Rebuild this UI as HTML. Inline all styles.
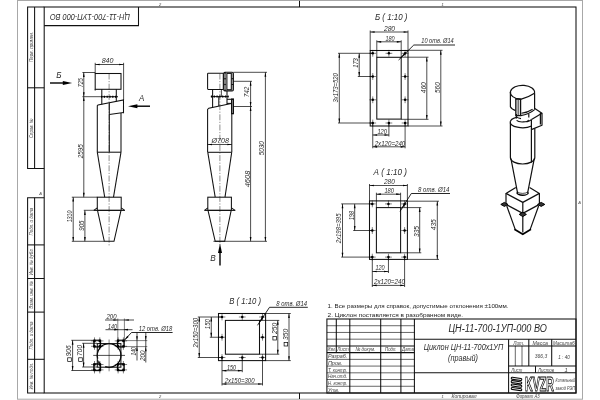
<!DOCTYPE html>
<html lang="ru"><head><meta charset="utf-8"><title>ЦН-11-700-1УП-000 ВО</title>
<style>
html,body{margin:0;padding:0;background:#fff;overflow:hidden}
svg{display:block;will-change:transform;filter:grayscale(1)}
text{font-family:"Liberation Sans",sans-serif;fill:#2a2a2a}
.i{font-style:italic}
.g{fill:#444}
.n{fill:#222}
.pg{fill:#fff;stroke:#a8a8a8;stroke-width:1}
.k{fill:none;stroke:#111;stroke-width:1.05;stroke-linejoin:miter}
.kk{fill:none;stroke:#000;stroke-width:2;stroke-dasharray:1.2 1.6}
.t{fill:none;stroke:#000;stroke-width:.7}
.ld{fill:none;stroke:#000;stroke-width:.85}
.k2{fill:none;stroke:#000;stroke-width:1.25}
.kf{fill:#777;stroke:#111;stroke-width:1}
.band{fill:none;stroke:#000;stroke-width:1.8;stroke-opacity:.5}
.band2{fill:none;stroke:#000;stroke-width:1.2;stroke-opacity:.35}
.kf2{fill:#ddd;stroke:#111;stroke-width:1.25}
.t2{fill:none;stroke:#000;stroke-width:.6}
.t3{fill:none;stroke:#000;stroke-width:.9;stroke-opacity:.55}
.h{fill:none;stroke:#000;stroke-width:.5}
.c{fill:none;stroke:#000;stroke-width:.45;stroke-dasharray:6 1.5 1.2 1.5}
.c2{fill:none;stroke:#000;stroke-width:.5}
.a{fill:#000;stroke:none}
.b{fill:#000;stroke:none}
.va{fill:none;stroke:#000;stroke-width:1.4}
.ft{fill:none;stroke:#000;stroke-width:1.1}
.fk{fill:#333;stroke:#000;stroke-width:1;stroke-linejoin:miter}
.ki{fill:none;stroke:#111;stroke-width:1.2;stroke-linejoin:round}
.fv2{fill:none;stroke:#000;stroke-width:1.4}
.fv{fill:none;stroke:#000;stroke-width:1.7;stroke-linejoin:miter}
.lg{fill:none;stroke:#000;stroke-width:3;stroke-linejoin:round;stroke-linecap:round}
.lg2{fill:none;stroke:#fff;stroke-width:.9;stroke-linejoin:round;stroke-linecap:round}
.lgt{font-weight:bold;fill:#fff;stroke:#000;stroke-width:1;font-style:normal}
</style></head>
<body>
<svg width="600" height="400" viewBox="0 0 600 400">
<rect width="600" height="400" fill="#fff"/>
<rect class="pg" x="17.5" y="0.5" width="565" height="398.7"/>
<rect class="k" x="44.2" y="7" width="531.8" height="386"/>
<path class="k" d="M44.2 7L27.6 7L27.6 168.5L44.2 168.5"/>
<path class="k" d="M34.6 7L34.6 168.5"/>
<path class="k" d="M44.2 197.8L27.6 197.8L27.6 393L44.2 393"/>
<path class="k" d="M34.6 197.8L34.6 393"/>
<path class="k" d="M27.6 87.8L44.2 87.8"/>
<path class="k" d="M27.6 244.9L44.2 244.9"/>
<path class="k" d="M27.6 278.5L44.2 278.5"/>
<path class="k" d="M27.6 312.1L44.2 312.1"/>
<path class="k" d="M27.6 359.3L44.2 359.3"/>
<text class="i g" x="33" y="47" font-size="5" transform="rotate(-90 33 47)" textLength="30" lengthAdjust="spacingAndGlyphs" text-anchor="middle">Перв. примен.</text>
<text class="i g" x="33" y="128.3" font-size="5" transform="rotate(-90 33 128.3)" textLength="19.5" lengthAdjust="spacingAndGlyphs" text-anchor="middle">Справ. №</text>
<text class="i g" x="33" y="221.6" font-size="5" transform="rotate(-90 33 221.6)" textLength="27.7" lengthAdjust="spacingAndGlyphs" text-anchor="middle">Подп. и дата</text>
<text class="i g" x="33" y="261.75" font-size="5" transform="rotate(-90 33 261.75)" textLength="27" lengthAdjust="spacingAndGlyphs" text-anchor="middle">Инв. № дубл.</text>
<text class="i g" x="33" y="295" font-size="5" transform="rotate(-90 33 295)" textLength="27.5" lengthAdjust="spacingAndGlyphs" text-anchor="middle">Взам. инв. №</text>
<text class="i g" x="33" y="335.5" font-size="5" transform="rotate(-90 33 335.5)" textLength="27.8" lengthAdjust="spacingAndGlyphs" text-anchor="middle">Подп. и дата</text>
<text class="i g" x="33" y="376" font-size="5" transform="rotate(-90 33 376)" textLength="27" lengthAdjust="spacingAndGlyphs" text-anchor="middle">Инв. № подл.</text>
<path class="k" d="M44.2 25.6L138.5 25.6L138.5 7"/>
<text class="i" x="90" y="13.6" font-size="8.6" transform="rotate(180 90 13.6)" textLength="80" lengthAdjust="spacingAndGlyphs" text-anchor="middle">ЦН-11-700-1УП-000 ВО</text>
<path class="k" d="M299.5 0.8L299.5 7"/>
<path class="k" d="M299.5 393L299.5 399"/>
<text class="i g" x="160" y="5.6" font-size="4" text-anchor="middle">2</text>
<text class="i g" x="442.5" y="5.6" font-size="4" text-anchor="middle">1</text>
<text class="i g" x="160" y="398.3" font-size="4" text-anchor="middle">2</text>
<text class="i g" x="442.5" y="398.3" font-size="4" text-anchor="middle">1</text>
<text class="i g" x="40.6" y="195.3" font-size="4" text-anchor="middle">A</text>
<text class="i g" x="579.7" y="203.6" font-size="4" text-anchor="middle">A</text>
<text class="i g" x="464" y="398.3" font-size="4.6" textLength="25" lengthAdjust="spacingAndGlyphs" text-anchor="middle">Копировал</text>
<text class="i g" x="528" y="398.3" font-size="4.6" textLength="23.5" lengthAdjust="spacingAndGlyphs" text-anchor="middle">Формат А3</text>
<rect class="k" x="326.9" y="319" width="249.1" height="74"/>
<path class="k" d="M349.8 319L349.8 393"/>
<path class="k" d="M380.7 319L380.7 393"/>
<path class="k" d="M400.9 319L400.9 393"/>
<path class="k" d="M414.4 319L414.4 393"/>
<path class="k" d="M336.3 319L336.3 352.63"/>
<path class="t2" d="M326.9 325.73L414.4 325.73"/>
<path class="t2" d="M326.9 332.45L414.4 332.45"/>
<path class="t2" d="M326.9 339.18L414.4 339.18"/>
<path class="k" d="M326.9 345.91L414.4 345.91"/>
<path class="k" d="M326.9 352.63L414.4 352.63"/>
<path class="t2" d="M326.9 359.36L414.4 359.36"/>
<path class="t2" d="M326.9 366.09L414.4 366.09"/>
<path class="t2" d="M326.9 372.82L414.4 372.82"/>
<path class="t2" d="M326.9 379.54L414.4 379.54"/>
<path class="t2" d="M326.9 386.27L414.4 386.27"/>
<path class="k" d="M414.4 339.18L576 339.18"/>
<path class="k" d="M414.4 372.82L576 372.82"/>
<path class="k" d="M508.6 339.18L508.6 393"/>
<path class="k" d="M508.6 345.91L576 345.91"/>
<path class="k" d="M508.6 366.09L576 366.09"/>
<path class="k" d="M528.8 339.18L528.8 366.09"/>
<path class="k" d="M551.7 339.18L551.7 366.09"/>
<path class="t2" d="M515.3 345.91L515.3 366.09"/>
<path class="t2" d="M522 345.91L522 366.09"/>
<path class="k" d="M535.5 366.09L535.5 372.82"/>
<text class="i g" x="331.6" y="351.44" font-size="5.8" textLength="8.4" lengthAdjust="spacingAndGlyphs" text-anchor="middle">Изм.</text>
<text class="i g" x="343.05" y="351.44" font-size="5.8" textLength="11.6" lengthAdjust="spacingAndGlyphs" text-anchor="middle">Лист</text>
<text class="i g" x="365.4" y="351.44" font-size="5.8" textLength="20" lengthAdjust="spacingAndGlyphs" text-anchor="middle">№ докум.</text>
<text class="i g" x="390.8" y="351.44" font-size="5.8" textLength="11.5" lengthAdjust="spacingAndGlyphs" text-anchor="middle">Подп.</text>
<text class="i g" x="408" y="351.44" font-size="5.8" textLength="11.8" lengthAdjust="spacingAndGlyphs" text-anchor="middle">Дата</text>
<text class="i g" x="327.9" y="358.16" font-size="5.8" textLength="19.5" lengthAdjust="spacingAndGlyphs">Разраб.</text>
<text class="i g" x="327.9" y="364.89" font-size="5.8" textLength="14.5" lengthAdjust="spacingAndGlyphs">Пров.</text>
<text class="i g" x="327.9" y="371.62" font-size="5.8" textLength="19.5" lengthAdjust="spacingAndGlyphs">Т. контр.</text>
<text class="i g" x="327.9" y="378.34" font-size="5.8" textLength="19.5" lengthAdjust="spacingAndGlyphs">Нач.отд.</text>
<text class="i g" x="327.9" y="385.07" font-size="5.8" textLength="19.5" lengthAdjust="spacingAndGlyphs">Н. контр.</text>
<text class="i g" x="327.9" y="391.8" font-size="5.8" textLength="11.5" lengthAdjust="spacingAndGlyphs">Утв.</text>
<text class="i g" x="518.7" y="344.71" font-size="5.8" textLength="11" lengthAdjust="spacingAndGlyphs" text-anchor="middle">Лит.</text>
<text class="i g" x="540.2" y="344.71" font-size="5.8" textLength="15.5" lengthAdjust="spacingAndGlyphs" text-anchor="middle">Масса</text>
<text class="i g" x="563.8" y="344.71" font-size="5.8" textLength="21.5" lengthAdjust="spacingAndGlyphs" text-anchor="middle">Масштаб</text>
<text class="i g" x="541" y="357.6" font-size="6.2" textLength="12.5" lengthAdjust="spacingAndGlyphs" text-anchor="middle">366,3</text>
<text class="i g" x="564" y="358.8" font-size="6.2" textLength="11.5" lengthAdjust="spacingAndGlyphs" text-anchor="middle">1 : 40</text>
<text class="i g" x="516.8" y="371.62" font-size="5.8" textLength="11" lengthAdjust="spacingAndGlyphs" text-anchor="middle">Лист</text>
<text class="i g" x="546" y="371.62" font-size="5.8" textLength="16" lengthAdjust="spacingAndGlyphs" text-anchor="middle">Листов</text>
<text class="i g" x="566" y="371.62" font-size="5.8" text-anchor="middle">1</text>
<text class="i" x="497.7" y="332.1" font-size="10" textLength="98.5" lengthAdjust="spacingAndGlyphs" text-anchor="middle">ЦН-11-700-1УП-000 ВО</text>
<text class="i" x="463.5" y="349.7" font-size="9" textLength="79.5" lengthAdjust="spacingAndGlyphs" text-anchor="middle">Циклон ЦН-11-700х1УП</text>
<text class="i" x="463" y="360.6" font-size="9" textLength="30" lengthAdjust="spacingAndGlyphs" text-anchor="middle">(правый)</text>
<path class="lg" d="M512.2 378.2L520.8 379.5M512.2 381.6L520.8 382.9M512.2 385L520.8 386.3M512.2 388.4L520.8 389.7"/>
<path class="lg2" d="M512.2 378.2L520.8 379.5M512.2 381.6L520.8 382.9M512.2 385L520.8 386.3M512.2 388.4L520.8 389.7"/>
<text class="lgt" x="525" y="391" font-size="19.5" textLength="28.8" lengthAdjust="spacingAndGlyphs">KVZR</text>
<text class="i g" x="565.3" y="382.2" font-size="5.2" textLength="19.5" lengthAdjust="spacingAndGlyphs" text-anchor="middle">Котельный</text>
<text class="i g" x="565.3" y="389.8" font-size="5.2" textLength="19.5" lengthAdjust="spacingAndGlyphs" text-anchor="middle">завод РЭП</text>
<text class="n" x="327.6" y="307.9" font-size="6.2" textLength="181" lengthAdjust="spacingAndGlyphs">1. Все размеры для справок, допустимые отклонения ±100мм.</text>
<text class="n" x="327.6" y="316.9" font-size="6.2" textLength="135.5" lengthAdjust="spacingAndGlyphs">2. Циклон поставляется в разобранном виде.</text>
<path class="c" d="M109.1 73.5L109.1 245.5"/>
<rect class="k" x="95.2" y="73.5" width="25.8" height="15.8"/>
<path class="k" d="M95.2 89.3L95.2 90.6"/>
<path class="k" d="M101.8 89.3L101.8 104.4"/>
<path class="k" d="M116.3 89.3L116.3 101.5"/>
<path class="k" d="M101 96.7L117.9 96.7"/>
<path class="kk" d="M101 96.7L117.9 96.7"/>
<path class="t" d="M82.4 96.7L101 96.7"/>
<path class="k" d="M97.3 152.2L97.3 105.7L98 105.1L123.5 100L123.5 113.2"/>
<path class="k" d="M123.5 112.6L109.3 114.6"/>
<path class="k" d="M109.3 102.9L109.3 152.2"/>
<path class="k" d="M121 113L121 152.2"/>
<path class="k" d="M97.3 152.2L121 152.2"/>
<path class="k" d="M97.3 152.2L104.7 197.2"/>
<path class="k" d="M121 152.2L113.5 197.2"/>
<rect class="k" x="97.3" y="197.2" width="23.9" height="13.1"/>
<path class="k" d="M93.6 210.4L124.9 210.4"/>
<path class="k" d="M93.8 210.4L97.3 207.9"/>
<path class="k" d="M124.7 210.4L121.2 207.9"/>
<path class="k" d="M97.5 210.4L104.3 241.3L114 241.3L121 210.4"/>
<path class="t" d="M95.2 62.8L95.2 73.5"/>
<path class="t" d="M123.6 62.8L123.6 100"/>
<path class="t" d="M95.2 64.5L123.6 64.5"/>
<path class="a" d="M95.2 64.5L99.6 63.65L99.6 65.35Z"/>
<path class="a" d="M123.6 64.5L119.2 65.35L119.2 63.65Z"/>
<text class="i" x="107.6" y="63.4" font-size="6.3" textLength="11.8" lengthAdjust="spacingAndGlyphs" text-anchor="middle">840</text>
<path class="t" d="M82.4 72.5L95.2 72.5"/>
<path class="t" d="M83.8 72.5L83.8 96.7"/>
<path class="a" d="M83.8 72.5L84.65 76.9L82.95 76.9Z"/>
<path class="a" d="M83.8 96.7L82.95 92.3L84.65 92.3Z"/>
<text class="i" x="82.7" y="82.75" font-size="6.3" transform="rotate(-90 82.7 82.75)" textLength="9.1" lengthAdjust="spacingAndGlyphs" text-anchor="middle">725</text>
<path class="t" d="M83.8 96.7L83.8 197.2"/>
<path class="a" d="M83.8 96.7L84.65 101.1L82.95 101.1Z"/>
<path class="a" d="M83.8 197.2L82.95 192.8L84.65 192.8Z"/>
<text class="i" x="82.7" y="151.2" font-size="6.3" transform="rotate(-90 82.7 151.2)" textLength="14.1" lengthAdjust="spacingAndGlyphs" text-anchor="middle">2595</text>
<path class="t" d="M71.8 197.2L97.3 197.2"/>
<path class="t" d="M83.8 210.3L93.7 210.3"/>
<path class="t" d="M71.8 241.3L104.3 241.3"/>
<path class="t" d="M73.2 197.2L73.2 241.3"/>
<path class="a" d="M73.2 197.2L74.05 201.6L72.35 201.6Z"/>
<path class="a" d="M73.2 241.3L72.35 236.9L74.05 236.9Z"/>
<text class="i" x="72.1" y="216.5" font-size="6.3" transform="rotate(-90 72.1 216.5)" textLength="11.7" lengthAdjust="spacingAndGlyphs" text-anchor="middle">1310</text>
<path class="t" d="M84.9 210.5L84.9 241.3"/>
<path class="a" d="M84.9 210.5L85.75 214.9L84.05 214.9Z"/>
<path class="a" d="M84.9 241.3L84.05 236.9L85.75 236.9Z"/>
<text class="i" x="83.8" y="225.6" font-size="6.3" transform="rotate(-90 83.8 225.6)" textLength="10.3" lengthAdjust="spacingAndGlyphs" text-anchor="middle">905</text>
<path class="va" d="M50 83L66 83"/>
<path class="a" d="M72.2 83L62.8 85L62.8 81Z"/>
<text class="i" x="58.9" y="78" font-size="9.6" textLength="5.3" lengthAdjust="spacingAndGlyphs" text-anchor="middle">Б</text>
<path class="va" d="M150 106.2L134 106.2"/>
<path class="a" d="M128 106.2L137.4 104.2L137.4 108.2Z"/>
<text class="i" x="141.6" y="101.3" font-size="9.6" textLength="5.3" lengthAdjust="spacingAndGlyphs" text-anchor="middle">А</text>
<path class="c" d="M219.9 73.5L219.9 245.5"/>
<rect class="k" x="207.6" y="73.3" width="15.7" height="16.1" rx="0.6"/>
<rect class="k" x="223.7" y="72.2" width="9.7" height="18.7" rx="1.2"/>
<rect class="k" x="226.9" y="73.4" width="4.4" height="16.3"/>
<path class="band" d="M225.2 73L225.2 90"/>
<path class="band2" d="M232.4 73L232.4 90"/>
<circle class="b" cx="225" cy="72.9" r="0.8"/>
<circle class="b" cx="225" cy="78.7" r="0.8"/>
<circle class="b" cx="225" cy="84.5" r="0.8"/>
<circle class="b" cx="225" cy="90.3" r="0.8"/>
<path class="k" d="M231.4 78.7L233.4 78.7"/>
<path class="k" d="M231.4 84.5L233.4 84.5"/>
<path class="k" d="M212.6 89.4L212.6 107.4"/>
<path class="k" d="M227 90.9L227 104.2"/>
<path class="t" d="M221.4 89.4L221.4 96.6"/>
<path class="k" d="M210.9 96.6L228.6 96.6"/>
<path class="kk" d="M210.9 96.6L228.6 96.6"/>
<path class="k" d="M218.8 96.6L218.8 106"/>
<path class="k" d="M227 99.3L231.3 99.3"/>
<path class="k" d="M227 103.4L231.3 103.4"/>
<rect class="kf" x="231.5" y="98.9" width="2" height="14.9"/>
<path class="k" d="M207.6 152.3L207.6 109.4L208.8 108.2L231.3 103.5"/>
<path class="k" d="M231.8 113.8L231.8 152.3"/>
<path class="k" d="M207.6 152.3L231.8 152.3"/>
<path class="t" d="M207.6 144.5L231.8 144.5"/>
<path class="a" d="M207.6 144.5L212 143.65L212 145.35Z"/>
<path class="a" d="M231.8 144.5L227.4 145.35L227.4 143.65Z"/>
<text class="i" x="220.3" y="143.4" font-size="6.3" textLength="17.5" lengthAdjust="spacingAndGlyphs" text-anchor="middle">Ø708</text>
<path class="k" d="M207.8 152.3L215.2 197.2"/>
<path class="k" d="M231.7 152.3L225 197.2"/>
<rect class="k" x="207.8" y="197.2" width="23.6" height="13.1"/>
<path class="k" d="M204.4 210.4L235.3 210.4"/>
<path class="k" d="M204.6 210.4L207.8 207.9"/>
<path class="k" d="M235.1 210.4L231.4 207.9"/>
<path class="k" d="M208 210.4L215.2 241.3L224.7 241.3L231.2 210.4"/>
<path class="t" d="M233.4 72.3L267 72.3"/>
<path class="t" d="M233.5 81.3L252 81.3"/>
<path class="t" d="M233.5 106.5L252 106.5"/>
<path class="t" d="M213.4 241.3L267 241.3"/>
<path class="t" d="M250.6 81.3L250.6 106.5"/>
<path class="a" d="M250.6 81.3L251.45 85.7L249.75 85.7Z"/>
<path class="a" d="M250.6 106.5L249.75 102.1L251.45 102.1Z"/>
<text class="i" x="249.5" y="91.9" font-size="6.3" transform="rotate(-90 249.5 91.9)" textLength="10.6" lengthAdjust="spacingAndGlyphs" text-anchor="middle">742</text>
<path class="t" d="M250.6 106.5L250.6 241.3"/>
<path class="a" d="M250.6 106.5L251.45 110.9L249.75 110.9Z"/>
<path class="a" d="M250.6 241.3L249.75 236.9L251.45 236.9Z"/>
<text class="i" x="249.5" y="179" font-size="6.3" transform="rotate(-90 249.5 179)" textLength="16.6" lengthAdjust="spacingAndGlyphs" text-anchor="middle">4608</text>
<path class="t" d="M265.4 72.3L265.4 241.3"/>
<path class="a" d="M265.4 72.3L266.25 76.7L264.55 76.7Z"/>
<path class="a" d="M265.4 241.3L264.55 236.9L266.25 236.9Z"/>
<text class="i" x="264.3" y="148.3" font-size="6.3" transform="rotate(-90 264.3 148.3)" textLength="14.1" lengthAdjust="spacingAndGlyphs" text-anchor="middle">5030</text>
<path class="va" d="M220 265.5L220 250"/>
<path class="a" d="M220 243.6L222 253L218 253Z"/>
<text class="i" x="213" y="260.8" font-size="9.6" textLength="5.5" lengthAdjust="spacingAndGlyphs" text-anchor="middle">В</text>
<text class="i" x="391.2" y="20" font-size="9.4" textLength="32.4" lengthAdjust="spacingAndGlyphs" text-anchor="middle">Б ( 1:10 )</text>
<rect class="k" x="370.2" y="50.5" width="37.8" height="75.5"/>
<rect class="k" x="376.8" y="57.3" width="24.4" height="61.8"/>
<path class="h" d="M369.35 53.3L376.15 53.3"/>
<path class="h" d="M372.75 49.9L372.75 56.7"/>
<circle class="b" cx="372.75" cy="53.3" r="1.25"/>
<path class="h" d="M369.35 76.5L376.15 76.5"/>
<path class="h" d="M372.75 73.1L372.75 79.9"/>
<circle class="b" cx="372.75" cy="76.5" r="1.25"/>
<path class="h" d="M369.35 99.8L376.15 99.8"/>
<path class="h" d="M372.75 96.4L372.75 103.2"/>
<circle class="b" cx="372.75" cy="99.8" r="1.25"/>
<path class="h" d="M369.35 123L376.15 123"/>
<path class="h" d="M372.75 119.6L372.75 126.4"/>
<circle class="b" cx="372.75" cy="123" r="1.25"/>
<path class="h" d="M385.5 53.3L392.3 53.3"/>
<path class="h" d="M388.9 49.9L388.9 56.7"/>
<circle class="b" cx="388.9" cy="53.3" r="1.25"/>
<path class="h" d="M385.5 123L392.3 123"/>
<path class="h" d="M388.9 119.6L388.9 126.4"/>
<circle class="b" cx="388.9" cy="123" r="1.25"/>
<path class="h" d="M401.7 53.3L408.5 53.3"/>
<path class="h" d="M405.1 49.9L405.1 56.7"/>
<circle class="b" cx="405.1" cy="53.3" r="1.25"/>
<path class="h" d="M401.7 76.5L408.5 76.5"/>
<path class="h" d="M405.1 73.1L405.1 79.9"/>
<circle class="b" cx="405.1" cy="76.5" r="1.25"/>
<path class="h" d="M401.7 99.8L408.5 99.8"/>
<path class="h" d="M405.1 96.4L405.1 103.2"/>
<circle class="b" cx="405.1" cy="99.8" r="1.25"/>
<path class="h" d="M401.7 123L408.5 123"/>
<path class="h" d="M405.1 119.6L405.1 126.4"/>
<circle class="b" cx="405.1" cy="123" r="1.25"/>
<path class="t" d="M370.2 30.5L370.2 50.5"/>
<path class="t" d="M408 30.5L408 50.5"/>
<path class="t" d="M370.2 32L408 32"/>
<path class="a" d="M370.2 32L374.6 31.15L374.6 32.85Z"/>
<path class="a" d="M408 32L403.6 32.85L403.6 31.15Z"/>
<text class="i" x="389.5" y="30.9" font-size="6.3" textLength="11.1" lengthAdjust="spacingAndGlyphs" text-anchor="middle">280</text>
<path class="t" d="M376.8 40.3L376.8 57.3"/>
<path class="t" d="M401.2 40.3L401.2 57.3"/>
<path class="t" d="M376.8 41.8L401.2 41.8"/>
<path class="a" d="M376.8 41.8L381.2 40.95L381.2 42.65Z"/>
<path class="a" d="M401.2 41.8L396.8 42.65L396.8 40.95Z"/>
<text class="i" x="390" y="40.7" font-size="6.3" textLength="9.1" lengthAdjust="spacingAndGlyphs" text-anchor="middle">180</text>
<path class="t" d="M338 53.3L372.7 53.3"/>
<path class="t" d="M357.8 76.5L372.7 76.5"/>
<path class="t" d="M338 123L372.7 123"/>
<path class="t" d="M359.2 53.3L359.2 76.5"/>
<path class="a" d="M359.2 53.3L360.05 57.7L358.35 57.7Z"/>
<path class="a" d="M359.2 76.5L358.35 72.1L360.05 72.1Z"/>
<text class="i" x="358.1" y="63" font-size="6.3" transform="rotate(-90 358.1 63)" textLength="9.6" lengthAdjust="spacingAndGlyphs" text-anchor="middle">173</text>
<path class="t" d="M339.3 53.3L339.3 123"/>
<path class="a" d="M339.3 53.3L340.15 57.7L338.45 57.7Z"/>
<path class="a" d="M339.3 123L338.45 118.6L340.15 118.6Z"/>
<text class="i" x="338.2" y="87.9" font-size="6.3" transform="rotate(-90 338.2 87.9)" textLength="29.4" lengthAdjust="spacingAndGlyphs" text-anchor="middle">3х173=520</text>
<path class="t" d="M372.75 123L372.75 148.3"/>
<path class="t" d="M388.9 123L388.9 136.5"/>
<path class="t" d="M405.1 123L405.1 148.3"/>
<path class="t" d="M372.75 135L388.9 135"/>
<path class="a" d="M372.75 135L377.15 134.15L377.15 135.85Z"/>
<path class="a" d="M388.9 135L384.5 135.85L384.5 134.15Z"/>
<text class="i" x="382.2" y="133.9" font-size="6.3" textLength="9.6" lengthAdjust="spacingAndGlyphs" text-anchor="middle">120</text>
<path class="t" d="M372.75 146.8L405.1 146.8"/>
<path class="a" d="M372.75 146.8L377.15 145.95L377.15 147.65Z"/>
<path class="a" d="M405.1 146.8L400.7 147.65L400.7 145.95Z"/>
<text class="i" x="390" y="145.7" font-size="6.3" textLength="30.6" lengthAdjust="spacingAndGlyphs" text-anchor="middle">2х120=240</text>
<path class="t" d="M408 50.3L442.5 50.3"/>
<path class="t" d="M401.2 57.2L428.5 57.2"/>
<path class="t" d="M401.2 119.3L428.5 119.3"/>
<path class="t" d="M408 126L442.5 126"/>
<path class="t" d="M426.8 57.2L426.8 119.3"/>
<path class="a" d="M426.8 57.2L427.65 61.6L425.95 61.6Z"/>
<path class="a" d="M426.8 119.3L425.95 114.9L427.65 114.9Z"/>
<text class="i" x="425.7" y="87.75" font-size="6.3" transform="rotate(-90 425.7 87.75)" textLength="11.1" lengthAdjust="spacingAndGlyphs" text-anchor="middle">460</text>
<path class="t" d="M440.8 50.3L440.8 126"/>
<path class="a" d="M440.8 50.3L441.65 54.7L439.95 54.7Z"/>
<path class="a" d="M440.8 126L439.95 121.6L441.65 121.6Z"/>
<text class="i" x="439.7" y="87.6" font-size="6.3" transform="rotate(-90 439.7 87.6)" textLength="10.8" lengthAdjust="spacingAndGlyphs" text-anchor="middle">560</text>
<path class="ld" d="M398.6 60L413.8 45L455 45"/>
<path class="a" d="M400 58.6L404.35 53.04L405.61 54.32Z"/>
<text class="i" x="437.5" y="43.4" font-size="6.9" textLength="32.5" lengthAdjust="spacingAndGlyphs" text-anchor="middle">10 отв. Ø14</text>
<text class="i" x="390.2" y="175.2" font-size="9.4" textLength="33.4" lengthAdjust="spacingAndGlyphs" text-anchor="middle">А ( 1:10 )</text>
<rect class="k" x="369.5" y="200.9" width="37.9" height="58.5"/>
<rect class="k" x="376.4" y="207.6" width="24.2" height="45.2"/>
<path class="h" d="M368.9 203.9L375.7 203.9"/>
<path class="h" d="M372.3 200.5L372.3 207.3"/>
<circle class="b" cx="372.3" cy="203.9" r="1.25"/>
<path class="h" d="M368.9 230.5L375.7 230.5"/>
<path class="h" d="M372.3 227.1L372.3 233.9"/>
<circle class="b" cx="372.3" cy="230.5" r="1.25"/>
<path class="h" d="M368.9 257.1L375.7 257.1"/>
<path class="h" d="M372.3 253.7L372.3 260.5"/>
<circle class="b" cx="372.3" cy="257.1" r="1.25"/>
<path class="h" d="M385.05 203.9L391.85 203.9"/>
<path class="h" d="M388.45 200.5L388.45 207.3"/>
<circle class="b" cx="388.45" cy="203.9" r="1.25"/>
<path class="h" d="M385.05 257.1L391.85 257.1"/>
<path class="h" d="M388.45 253.7L388.45 260.5"/>
<circle class="b" cx="388.45" cy="257.1" r="1.25"/>
<path class="h" d="M401.2 203.9L408 203.9"/>
<path class="h" d="M404.6 200.5L404.6 207.3"/>
<circle class="b" cx="404.6" cy="203.9" r="1.25"/>
<path class="h" d="M401.2 230.5L408 230.5"/>
<path class="h" d="M404.6 227.1L404.6 233.9"/>
<circle class="b" cx="404.6" cy="230.5" r="1.25"/>
<path class="h" d="M401.2 257.1L408 257.1"/>
<path class="h" d="M404.6 253.7L404.6 260.5"/>
<circle class="b" cx="404.6" cy="257.1" r="1.25"/>
<path class="t" d="M369.5 184L369.5 200.9"/>
<path class="t" d="M407.4 184L407.4 200.9"/>
<path class="t" d="M369.5 185.5L407.4 185.5"/>
<path class="a" d="M369.5 185.5L373.9 184.65L373.9 186.35Z"/>
<path class="a" d="M407.4 185.5L403 186.35L403 184.65Z"/>
<text class="i" x="389.4" y="184.4" font-size="6.3" textLength="10.8" lengthAdjust="spacingAndGlyphs" text-anchor="middle">280</text>
<path class="t" d="M376.4 192.7L376.4 207.6"/>
<path class="t" d="M400.6 192.7L400.6 207.6"/>
<path class="t" d="M376.4 194.2L400.6 194.2"/>
<path class="a" d="M376.4 194.2L380.8 193.35L380.8 195.05Z"/>
<path class="a" d="M400.6 194.2L396.2 195.05L396.2 193.35Z"/>
<text class="i" x="389.2" y="193.1" font-size="6.3" textLength="9.6" lengthAdjust="spacingAndGlyphs" text-anchor="middle">180</text>
<path class="t" d="M341.2 203.9L372.3 203.9"/>
<path class="t" d="M353.2 230.5L372.3 230.5"/>
<path class="t" d="M341.2 257.1L372.3 257.1"/>
<path class="t" d="M354.7 203.9L354.7 230.5"/>
<path class="a" d="M354.7 203.9L355.55 208.3L353.85 208.3Z"/>
<path class="a" d="M354.7 230.5L353.85 226.1L355.55 226.1Z"/>
<text class="i" x="353.6" y="215.5" font-size="6.3" transform="rotate(-90 353.6 215.5)" textLength="9.1" lengthAdjust="spacingAndGlyphs" text-anchor="middle">198</text>
<path class="t" d="M342.5 203.9L342.5 257.1"/>
<path class="a" d="M342.5 203.9L343.35 208.3L341.65 208.3Z"/>
<path class="a" d="M342.5 257.1L341.65 252.7L343.35 252.7Z"/>
<text class="i" x="341.4" y="228.4" font-size="6.3" transform="rotate(-90 341.4 228.4)" textLength="29.8" lengthAdjust="spacingAndGlyphs" text-anchor="middle">2х198=395</text>
<path class="t" d="M372.3 257.1L372.3 287"/>
<path class="t" d="M388.45 257.1L388.45 273"/>
<path class="t" d="M404.6 257.1L404.6 287"/>
<path class="t" d="M372.3 271.5L388.45 271.5"/>
<path class="a" d="M372.3 271.5L376.7 270.65L376.7 272.35Z"/>
<path class="a" d="M388.45 271.5L384.05 272.35L384.05 270.65Z"/>
<text class="i" x="380" y="270.4" font-size="6.3" textLength="9.2" lengthAdjust="spacingAndGlyphs" text-anchor="middle">120</text>
<path class="t" d="M372.3 285.4L404.6 285.4"/>
<path class="a" d="M372.3 285.4L376.7 284.55L376.7 286.25Z"/>
<path class="a" d="M404.6 285.4L400.2 286.25L400.2 284.55Z"/>
<text class="i" x="389.4" y="284.3" font-size="6.3" textLength="30.9" lengthAdjust="spacingAndGlyphs" text-anchor="middle">2х120=240</text>
<path class="t" d="M407.4 201.2L439 201.2"/>
<path class="t" d="M400.6 207.6L421.3 207.6"/>
<path class="t" d="M400.6 252.8L421.3 252.8"/>
<path class="t" d="M407.4 259.4L439 259.4"/>
<path class="t" d="M419.7 207.6L419.7 252.8"/>
<path class="a" d="M419.7 207.6L420.55 212L418.85 212Z"/>
<path class="a" d="M419.7 252.8L418.85 248.4L420.55 248.4Z"/>
<text class="i" x="418.6" y="231.5" font-size="6.3" transform="rotate(-90 418.6 231.5)" textLength="11.1" lengthAdjust="spacingAndGlyphs" text-anchor="middle">335</text>
<path class="t" d="M437.3 201.2L437.3 259.4"/>
<path class="a" d="M437.3 201.2L438.15 205.6L436.45 205.6Z"/>
<path class="a" d="M437.3 259.4L436.45 255L438.15 255Z"/>
<text class="i" x="436.2" y="224.75" font-size="6.3" transform="rotate(-90 436.2 224.75)" textLength="11.1" lengthAdjust="spacingAndGlyphs" text-anchor="middle">435</text>
<path class="ld" d="M400 211.4L411.3 193.5L450 193.5"/>
<path class="a" d="M401 209.8L403.98 203.4L405.5 204.36Z"/>
<text class="i" x="433.7" y="191.7" font-size="6.9" textLength="31.4" lengthAdjust="spacingAndGlyphs" text-anchor="middle">8 отв. Ø14</text>
<text class="i" x="245.2" y="303.6" font-size="9.4" textLength="31.8" lengthAdjust="spacingAndGlyphs" text-anchor="middle">В ( 1:10 )</text>
<rect class="k" x="218.5" y="313.5" width="47.1" height="47.1"/>
<rect class="k" x="225.4" y="320.4" width="34.1" height="33.8"/>
<path class="h" d="M218.6 317L225.4 317"/>
<path class="h" d="M222 313.6L222 320.4"/>
<circle class="b" cx="222" cy="317" r="1.25"/>
<path class="h" d="M218.6 337.25L225.4 337.25"/>
<path class="h" d="M222 333.85L222 340.65"/>
<circle class="b" cx="222" cy="337.25" r="1.25"/>
<path class="h" d="M218.6 357.5L225.4 357.5"/>
<path class="h" d="M222 354.1L222 360.9"/>
<circle class="b" cx="222" cy="357.5" r="1.25"/>
<path class="h" d="M238.85 317L245.65 317"/>
<path class="h" d="M242.25 313.6L242.25 320.4"/>
<circle class="b" cx="242.25" cy="317" r="1.25"/>
<path class="h" d="M238.85 357.5L245.65 357.5"/>
<path class="h" d="M242.25 354.1L242.25 360.9"/>
<circle class="b" cx="242.25" cy="357.5" r="1.25"/>
<path class="h" d="M259.1 317L265.9 317"/>
<path class="h" d="M262.5 313.6L262.5 320.4"/>
<circle class="b" cx="262.5" cy="317" r="1.25"/>
<path class="h" d="M259.1 337.25L265.9 337.25"/>
<path class="h" d="M262.5 333.85L262.5 340.65"/>
<circle class="b" cx="262.5" cy="337.25" r="1.25"/>
<path class="h" d="M259.1 357.5L265.9 357.5"/>
<path class="h" d="M262.5 354.1L262.5 360.9"/>
<circle class="b" cx="262.5" cy="357.5" r="1.25"/>
<path class="t" d="M197.8 317L222 317"/>
<path class="t" d="M209.8 337.25L222 337.25"/>
<path class="t" d="M197.8 357.5L222 357.5"/>
<path class="t" d="M211.25 317L211.25 337.25"/>
<path class="a" d="M211.25 317L212.1 321.4L210.4 321.4Z"/>
<path class="a" d="M211.25 337.25L210.4 332.85L212.1 332.85Z"/>
<text class="i" x="210.15" y="324.1" font-size="6.3" transform="rotate(-90 210.15 324.1)" textLength="10.1" lengthAdjust="spacingAndGlyphs" text-anchor="middle">150</text>
<path class="t" d="M199.25 317L199.25 357.5"/>
<path class="a" d="M199.25 317L200.1 321.4L198.4 321.4Z"/>
<path class="a" d="M199.25 357.5L198.4 353.1L200.1 353.1Z"/>
<text class="i" x="198.15" y="332.75" font-size="6.3" transform="rotate(-90 198.15 332.75)" textLength="29.6" lengthAdjust="spacingAndGlyphs" text-anchor="middle">2х150=300</text>
<path class="t" d="M222 357.5L222 385.5"/>
<path class="t" d="M242.25 357.5L242.25 372.2"/>
<path class="t" d="M262.5 357.5L262.5 385.5"/>
<path class="t" d="M222 370.7L242.25 370.7"/>
<path class="a" d="M222 370.7L226.4 369.85L226.4 371.55Z"/>
<path class="a" d="M242.25 370.7L237.85 371.55L237.85 369.85Z"/>
<text class="i" x="231.5" y="369.6" font-size="6.3" textLength="9.2" lengthAdjust="spacingAndGlyphs" text-anchor="middle">150</text>
<path class="t" d="M222 384L262.5 384"/>
<path class="a" d="M222 384L226.4 383.15L226.4 384.85Z"/>
<path class="a" d="M262.5 384L258.1 384.85L258.1 383.15Z"/>
<text class="i" x="239.6" y="382.9" font-size="6.3" textLength="29.8" lengthAdjust="spacingAndGlyphs" text-anchor="middle">2х150=300</text>
<path class="t" d="M259.5 320.4L279.3 320.4"/>
<path class="t" d="M259.5 354.2L279.3 354.2"/>
<path class="t" d="M265.6 313.5L290.8 313.5"/>
<path class="t" d="M265.6 360.6L290.8 360.6"/>
<path class="t" d="M277.8 320.4L277.8 354.2"/>
<path class="a" d="M277.8 320.4L278.65 324.8L276.95 324.8Z"/>
<path class="a" d="M277.8 354.2L276.95 349.8L278.65 349.8Z"/>
<text class="i" x="276.7" y="328.3" font-size="6.3" transform="rotate(-90 276.7 328.3)" textLength="11.2" lengthAdjust="spacingAndGlyphs" text-anchor="middle">250</text>
<rect class="t" x="272.9" y="336.4" width="3.6" height="3.6"/>
<path class="t" d="M289 313.5L289 360.6"/>
<path class="a" d="M289 313.5L289.85 317.9L288.15 317.9Z"/>
<path class="a" d="M289 360.6L288.15 356.2L289.85 356.2Z"/>
<text class="i" x="287.9" y="334.3" font-size="6.3" transform="rotate(-90 287.9 334.3)" textLength="11.2" lengthAdjust="spacingAndGlyphs" text-anchor="middle">350</text>
<rect class="t" x="284.1" y="342.4" width="3.6" height="3.6"/>
<path class="ld" d="M257.5 325.3L269.5 307.3L307.8 307.3"/>
<path class="a" d="M258.5 323.8L261.63 317.48L263.13 318.47Z"/>
<text class="i" x="291.6" y="305.5" font-size="6.9" textLength="30.8" lengthAdjust="spacingAndGlyphs" text-anchor="middle">8 отв. Ø14</text>
<path class="t" d="M93.2 355.4L125 355.4"/>
<path class="c2" d="M109.1 339.5L109.1 371.3"/>
<path class="k2" d="M97.7 358.6A11.85 11.85 0 1 1 105.2 366.6"/>
<rect class="k" x="97.3" y="343.6" width="23.6" height="23.6"/>
<rect class="ft" x="93.8" y="340.2" width="6.8" height="6.8"/>
<path class="h" d="M94.5 337.4L94.5 349.8"/>
<circle class="b" cx="94.5" cy="340.9" r="1.3"/>
<circle class="b" cx="94.5" cy="346.3" r="1.3"/>
<path class="h" d="M99.8 337.4L99.8 349.8"/>
<circle class="b" cx="99.8" cy="340.9" r="1.3"/>
<circle class="b" cx="99.8" cy="346.3" r="1.3"/>
<path class="h" d="M91.1 340.9L103.5 340.9"/>
<path class="h" d="M91.1 346.3L103.5 346.3"/>
<rect class="ft" x="117.4" y="340.2" width="6.8" height="6.8"/>
<path class="h" d="M118.1 337.4L118.1 349.8"/>
<circle class="b" cx="118.1" cy="340.9" r="1.3"/>
<circle class="b" cx="118.1" cy="346.3" r="1.3"/>
<path class="h" d="M123.4 337.4L123.4 349.8"/>
<circle class="b" cx="123.4" cy="340.9" r="1.3"/>
<circle class="b" cx="123.4" cy="346.3" r="1.3"/>
<path class="h" d="M114.7 340.9L127.1 340.9"/>
<path class="h" d="M114.7 346.3L127.1 346.3"/>
<rect class="ft" x="93.8" y="363.8" width="6.8" height="6.8"/>
<path class="h" d="M94.5 361L94.5 373.4"/>
<circle class="b" cx="94.5" cy="364.5" r="1.3"/>
<circle class="b" cx="94.5" cy="369.9" r="1.3"/>
<path class="h" d="M99.8 361L99.8 373.4"/>
<circle class="b" cx="99.8" cy="364.5" r="1.3"/>
<circle class="b" cx="99.8" cy="369.9" r="1.3"/>
<path class="h" d="M91.1 364.5L103.5 364.5"/>
<path class="h" d="M91.1 369.9L103.5 369.9"/>
<rect class="ft" x="117.4" y="363.8" width="6.8" height="6.8"/>
<path class="h" d="M118.1 361L118.1 373.4"/>
<circle class="b" cx="118.1" cy="364.5" r="1.3"/>
<circle class="b" cx="118.1" cy="369.9" r="1.3"/>
<path class="h" d="M123.4 361L123.4 373.4"/>
<circle class="b" cx="123.4" cy="364.5" r="1.3"/>
<circle class="b" cx="123.4" cy="369.9" r="1.3"/>
<path class="h" d="M114.7 364.5L127.1 364.5"/>
<path class="h" d="M114.7 369.9L127.1 369.9"/>
<path class="k" d="M97.6 360.2L98.6 362.4L100.2 362.2"/>
<path class="t" d="M71.3 340.3L93.4 340.3"/>
<path class="t" d="M71.3 370.5L93.4 370.5"/>
<path class="t" d="M82.2 343.3L97 343.3"/>
<path class="t" d="M82.2 367L97 367"/>
<path class="t" d="M72.6 340.3L72.6 370.5"/>
<path class="a" d="M72.6 340.3L73.45 344.7L71.75 344.7Z"/>
<path class="a" d="M72.6 370.5L71.75 366.1L73.45 366.1Z"/>
<text class="i" x="71.5" y="350.8" font-size="6.3" transform="rotate(-90 71.5 350.8)" textLength="11" lengthAdjust="spacingAndGlyphs" text-anchor="middle">906</text>
<rect class="t" x="67.7" y="357.8" width="3.6" height="3.6"/>
<path class="t" d="M83.6 343.3L83.6 367"/>
<path class="a" d="M83.6 343.3L84.45 347.7L82.75 347.7Z"/>
<path class="a" d="M83.6 367L82.75 362.6L84.45 362.6Z"/>
<text class="i" x="82.5" y="350.4" font-size="6.3" transform="rotate(-90 82.5 350.4)" textLength="11" lengthAdjust="spacingAndGlyphs" text-anchor="middle">700</text>
<rect class="t" x="78.7" y="357.8" width="3.6" height="3.6"/>
<path class="t3" d="M117.8 318.5L117.8 340"/>
<path class="t3" d="M124.4 318.5L124.4 340"/>
<path class="t" d="M105 320L134 320"/>
<path class="a" d="M117.8 320L113.4 320.85L113.4 319.15Z"/>
<path class="a" d="M124.4 320L128.8 319.15L128.8 320.85Z"/>
<text class="i" x="111.5" y="319.2" font-size="6.3" textLength="10" lengthAdjust="spacingAndGlyphs" text-anchor="middle">200</text>
<path class="t" d="M105.5 329.7L132.5 329.7"/>
<path class="a" d="M118.6 329.7L114.2 330.55L114.2 328.85Z"/>
<path class="a" d="M123.6 329.7L128 328.85L128 330.55Z"/>
<text class="i" x="112.5" y="328.9" font-size="6.3" textLength="9" lengthAdjust="spacingAndGlyphs" text-anchor="middle">140</text>
<path class="ld" d="M124.6 340L131.5 332.5L172.6 332.5"/>
<path class="a" d="M124.6 340L127.32 335.71L128.65 336.93Z"/>
<text class="i" x="155.5" y="331.1" font-size="6.9" textLength="33.5" lengthAdjust="spacingAndGlyphs" text-anchor="middle">12 отв. Ø18</text>
<path class="t3" d="M125 340.6L147.3 340.6"/>
<path class="t3" d="M125 346.6L147.3 346.6"/>
<path class="t" d="M137 332.5L137 360.5"/>
<path class="a" d="M137 340.6L136.15 336.2L137.85 336.2Z"/>
<path class="a" d="M137 346.6L137.85 351L136.15 351Z"/>
<path class="t" d="M145.8 332.5L145.8 362.5"/>
<path class="a" d="M145.8 340.4L144.95 336L146.65 336Z"/>
<path class="a" d="M145.8 346.8L146.65 351.2L144.95 351.2Z"/>
<text class="i" x="135.9" y="351.3" font-size="6.3" transform="rotate(-90 135.9 351.3)" textLength="8.5" lengthAdjust="spacingAndGlyphs" text-anchor="middle">140</text>
<text class="i" x="144.8" y="355.8" font-size="6.3" transform="rotate(-90 144.8 355.8)" textLength="10.5" lengthAdjust="spacingAndGlyphs" text-anchor="middle">200</text>
<path class="ki" d="M520.6 99.4A12.1 7.1 0 1 1 534.5 93.2Q528.5 97.2 520.6 99.4"/>
<path class="ki" d="M510.4 92V106.8Q511.4 109.2 515.6 110.6"/>
<path class="ki" d="M534.6 93.2V109.6"/>
<rect class="kf2" x="515.8" y="99" width="4.8" height="16.6"/>
<path class="t" d="M518.2 100V115"/>
<path class="ki" d="M520.6 115.6Q529 114.4 534.6 109.6"/>
<path class="ki" d="M515.8 98.6L520.6 99.5"/>
<path class="k" d="M521.4 113.2Q527.5 112.6 532.6 109.2"/>
<path class="ki" d="M516.4 114V118.5M528.8 114V117.5"/>
<path class="ki" d="M510.4 121.8A12.2 5.2 0 0 0 531.5 126"/>
<path class="ki" d="M510.4 121.8A12.2 5.2 0 0 1 516.4 117.4"/>
<path class="ki" d="M516.6 120.4A6.2 2.4 0 0 0 528.6 119.8"/>
<path class="ki" d="M516.6 116.8A6.2 2.4 0 0 0 521 118.6"/>
<path class="ki" d="M534.8 108.6L542 113.2V125.2L531.3 129.6"/>
<path class="ki" d="M531.5 119.6L542 113.2"/>
<path class="ki" d="M531.5 119.6Q529.5 121.4 526.5 121.8"/>
<path class="ki" d="M540.4 112.4V124.6"/>
<path class="ki" d="M510.4 121.5V157.6A12.2 6.4 0 0 0 534.8 157.6V128.4"/>
<path class="ki" d="M531.4 119.6V162.4"/>
<path class="ki" d="M511 158.8L517.6 193.2M534.2 158.8L527.6 193.2"/>
<path class="fv2" d="M516.9 192.4A5.7 2.9 0 0 0 528.3 192.4"/>
<path class="t" d="M517.8 191.6A4.8 1.8 0 0 0 527.4 191.6"/>
<path class="ki" d="M515.8 187.6L506 193.4L522.8 202.4L539.4 193.4L529.6 187.6"/>
<path class="ki" d="M506 193.4V204.4L522.8 213.4L539.4 204.4V193.4M522.8 202.4V232.6"/>
<path class="fk" d="M500.8 204.4L504.4 202.4L508 204.4L504.4 206.4Z"/>
<path class="fk" d="M519.2 214.4L522.8 212.2L526.4 214.4L522.8 216.6Z"/>
<path class="fk" d="M537.6 204.4L541.2 202.4L544.8 204.4L541.2 206.4Z"/>
<path class="ki" d="M506.8 206L515.2 229.4M538.6 206L530.2 229.4"/>
<path class="fv" d="M514.4 229.2L522.8 234.2L531 229.2"/>
</svg>
</body></html>
